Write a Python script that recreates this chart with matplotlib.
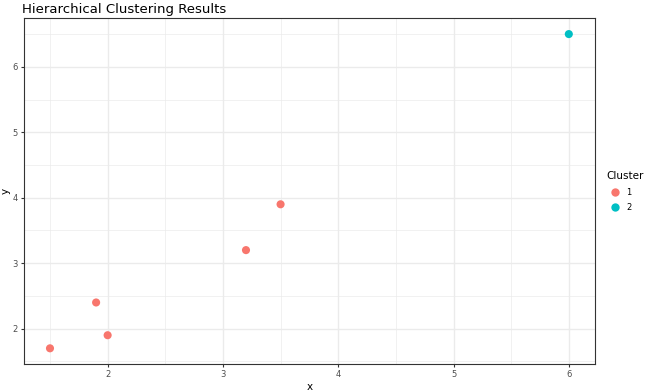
import matplotlib
matplotlib.use("Agg")
import matplotlib.pyplot as plt
from matplotlib.lines import Line2D
import numpy as np

# data
x = [1.5, 1.9, 2.0, 3.2, 3.5, 6.0]
y = [1.7, 2.4, 1.9, 3.2, 3.9, 6.5]
cluster = [1, 1, 1, 1, 1, 2]
cluster_colors = {1: "#F8766D", 2: "#00BFC4"}

plt.rcParams['font.family'] = ['DejaVu Sans']

fig = plt.figure(figsize=(6.5, 3.91), dpi=100)
ax = fig.add_axes([0.037, 0.069, 0.878, 0.884])

cols = [cluster_colors[c] for c in cluster]
ax.scatter(x, y, c=cols, s=34, linewidths=0, zorder=3)

# ggplot-like expansion
xr = max(x) - min(x)
yr = max(y) - min(y)
ax.set_xlim(min(x) - 0.05 * xr, max(x) + 0.05 * xr)
ax.set_ylim(min(y) - 0.05 * yr, max(y) + 0.05 * yr)

ax.set_xticks([2, 3, 4, 5, 6])
ax.set_yticks([2, 3, 4, 5, 6])
ax.set_xticks(np.arange(1.5, 6.01, 0.5), minor=True)
ax.set_yticks(np.arange(1.5, 6.51, 0.5), minor=True)
ax.grid(True, which='major', color='#EBEBEB', linewidth=1.0, zorder=0)
ax.grid(True, which='minor', color='#EBEBEB', linewidth=0.5, zorder=0)
ax.set_axisbelow(True)
ax.tick_params(which='major', length=2.5, width=0.8, color='#333333',
               labelsize=6, labelcolor='#4D4D4D', pad=2)
ax.tick_params(which='minor', length=0)
for s in ax.spines.values():
    s.set_color('#333333')
    s.set_linewidth(0.8)

ax.set_xlabel('x', fontsize=7.5, labelpad=2)
ax.set_ylabel('y', fontsize=7.5, labelpad=1)
ax.set_title('Hierarchical Clustering Results', fontsize=9.5, loc='left', x=-0.003, pad=4)

handles = [Line2D([0], [0], marker='o', color='none', markerfacecolor=cluster_colors[k],
                  markeredgewidth=0, markersize=6, label=str(k)) for k in [1, 2]]
leg = fig.legend(handles=handles, title='Cluster', loc='center left',
                 bbox_to_anchor=(0.922, 0.51), frameon=False, fontsize=6,
                 title_fontsize=7.5, handletextpad=0.3, labelspacing=0.8)
leg._legend_box.align = "left"

fig.savefig('out.png', dpi=100)
